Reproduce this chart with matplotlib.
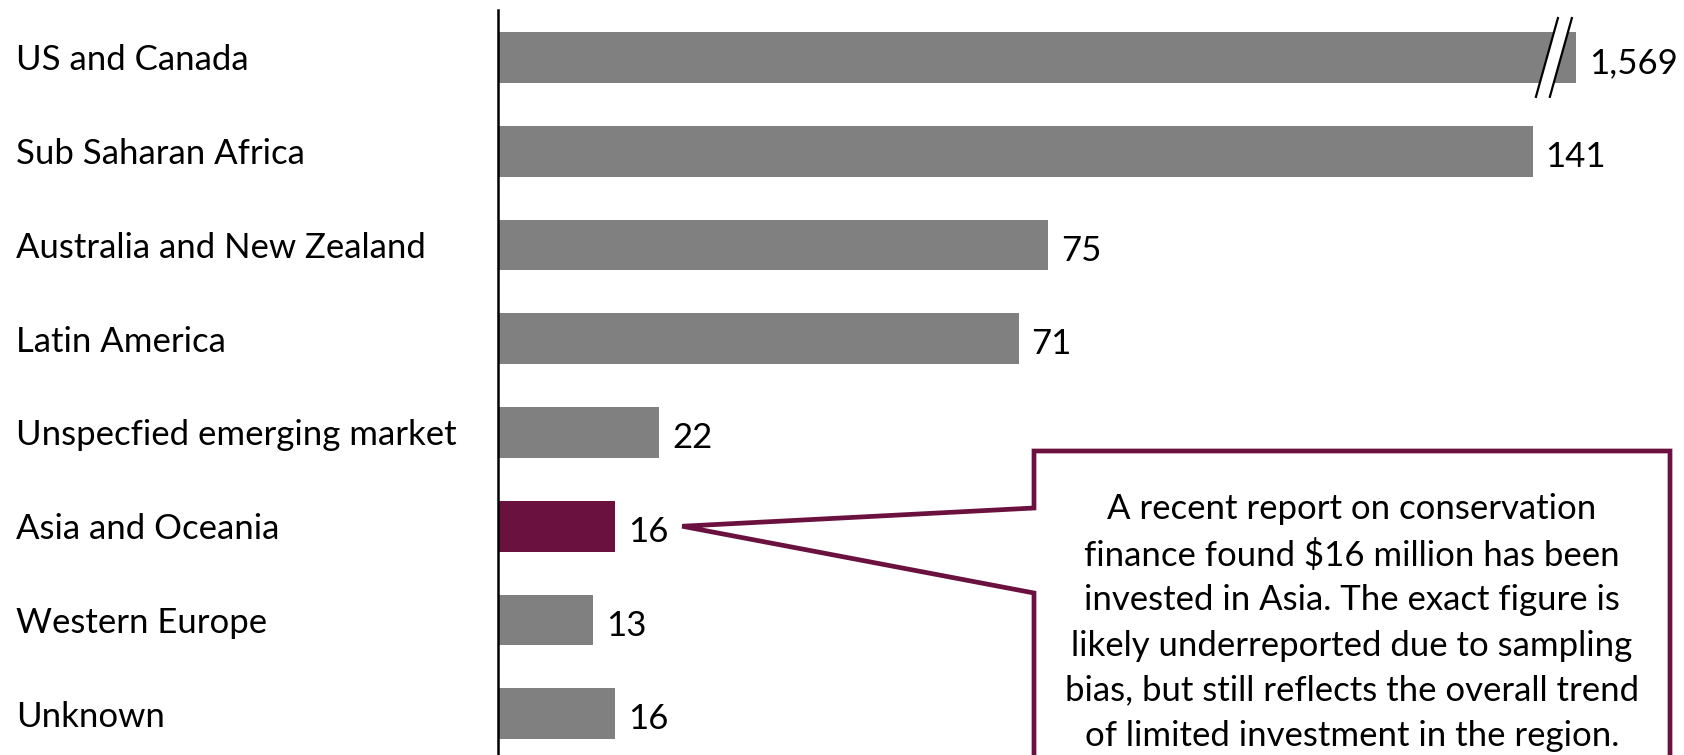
import matplotlib
matplotlib.use("Agg")
import matplotlib.pyplot as plt
import matplotlib.transforms as mtransforms
from matplotlib.patches import Polygon
from matplotlib.lines import Line2D

plt.rcParams['font.family'] = ['Lato', 'DejaVu Sans']

categories = ["US and Canada", "Sub Saharan Africa", "Australia and New Zealand",
              "Latin America", "Unspecfied emerging market", "Asia and Oceania",
              "Western Europe", "Unknown"]
values = [1569, 141, 75, 71, 22, 16, 13, 16]
value_labels = ["1,569", "141", "75", "71", "22", "16", "13", "16"]
highlight = "Asia and Oceania"
callout_text = ("A recent report on conservation\n"
                "finance found $16 million has been\n"
                "invested in Asia. The exact figure is\n"
                "likely underreported due to sampling\n"
                "bias, but still reflects the overall trend\n"
                "of limited investment in the region.")

GRAY = "#808080"
MAROON = "#6B1140"
W, H = 1684, 755
FS = 25

fig = plt.figure(figsize=(W / 100, H / 100), dpi=100)
ax = fig.add_axes([498 / W, 0, 1 - 498 / W, (755 - 10) / H])

# broken-axis cap for the outlier bar
cap = sorted(values)[-2] * 1.042
shown = [min(v, cap) for v in values]
ypos = list(range(len(categories)))
colors = [MAROON if c == highlight else GRAY for c in categories]
ax.barh(ypos, shown, height=0.54, color=colors, zorder=2)

ax.set_xlim(0, 161.6)
ax.set_ylim(len(categories) - 0.56, -0.506)
for s in ["top", "right", "bottom"]:
    ax.spines[s].set_visible(False)
ax.spines["left"].set_linewidth(1.8)
ax.spines["left"].set_color("black")
ax.set_xticks([])
ax.set_yticks([])

# category labels, left aligned at figure left
blend = mtransforms.blended_transform_factory(fig.transFigure, ax.transData)
for y, c in zip(ypos, categories):
    t = blend + mtransforms.ScaledTranslation(0, -3 / 100, fig.dpi_scale_trans)
    ax.text(16 / W, y, c, transform=t, ha="left", va="center", fontsize=FS, color="black")

# value labels
for y, v, lab in zip(ypos, shown, value_labels):
    ax.annotate(lab, (v, y), xytext=(9, -4), textcoords="offset points",
                ha="left", va="center", fontsize=FS, color="black")

# break marks on the capped bar
i = values.index(max(values))
slant = 1.5
x1, x2 = cap - 4.0, cap - 2.1
gap = Polygon([(x1 - slant, i + 0.42), (x1 + slant, i - 0.42),
               (x2 + slant, i - 0.42), (x2 - slant, i + 0.42)],
              closed=True, facecolor="white", edgecolor="none", zorder=3)
ax.add_patch(gap)
for xb in (x1, x2):
    ax.add_line(Line2D([xb - slant, xb + slant], [i + 0.42, i - 0.42],
                       color="black", lw=1.6, zorder=4, clip_on=False))

# callout box with pointer
j = categories.index(highlight)
tip_disp = ax.transData.transform((values[j] + 9.1, j))
tx, ty = tip_disp[0], tip_disp[1]
bl, br, bt = 1034, 1670, H - 451
upper_y = H - 508
lower_y = H - 593
pts = [(bl, -10), (bl, lower_y), (tx, ty), (bl, upper_y), (bl, bt), (br, bt), (br, -10)]
pts_fig = [(px / W, py / H) for px, py in pts]
box = Polygon(pts_fig, closed=False, transform=fig.transFigure, facecolor="white",
              edgecolor=MAROON, lw=3.4, joinstyle="miter", zorder=5)
fig.add_artist(box)
fig.text((bl + br) / 2 / W, (H - 493) / H, callout_text, ha="center", va="top",
         fontsize=FS, linespacing=1.5, color="black", zorder=6)

fig.savefig("out.png", dpi=100)
